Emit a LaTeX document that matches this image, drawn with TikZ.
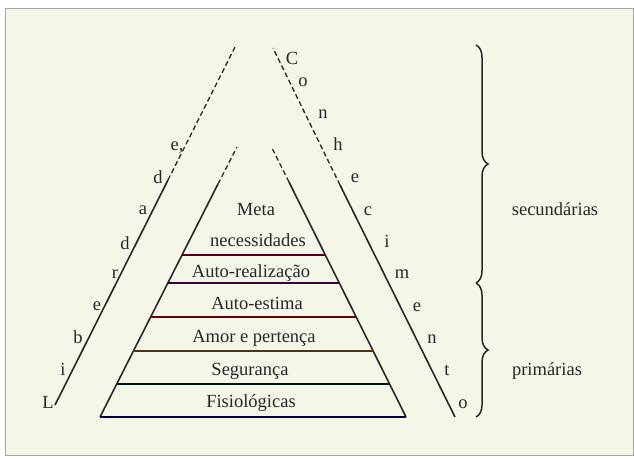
\documentclass[tikz,border=0pt]{standalone}
\usepackage{fontspec}
\setmainfont{Liberation Serif}
\usetikzlibrary{decorations.pathreplacing}

\definecolor{papel}{RGB}{244,246,231}
\definecolor{tinta}{RGB}{40,38,46}

\begin{document}
\begin{tikzpicture}[
  x=1pt,
  y=-1pt,
  font=\fontsize{18.5}{22}\selectfont,
  ltr/.style={
    anchor=base,
    text=tinta,
    inner sep=0pt
  },
  lvl/.style={
    anchor=base,
    text=tinta,
    inner sep=0pt
  },
  side/.style={
    line width=1.6pt,
    tinta
  },
  gap/.style={
    line width=1.3pt,
    tinta,
    dash pattern=on 5pt off 3pt
  },
  rung/.style={
    line width=1.5pt
  },
  chave/.style={
    decorate,
    decoration={brace, amplitude=12pt},
    line width=1.5pt,
    tinta
  }
]

\useasboundingbox (0,0) rectangle (634,458);

% =========================================================
% FUNDO
% =========================================================

\draw[gray!70, line width=1pt, fill=papel] (5,8) rectangle (633,455);

% =========================================================
% PIRÂMIDE INTERNA
% =========================================================

\coordinate (ib-l) at (100,417);
\coordinate (im-l) at (218,184);
\coordinate (it-l) at (237,147);

\coordinate (ib-r) at (406,417);
\coordinate (im-r) at (289,182);
\coordinate (it-r) at (272,148);

\draw[side] (ib-l) -- (im-l);
\draw[gap]  (im-l) -- (it-l);

\draw[side] (ib-r) -- (im-r);
\draw[gap]  (im-r) -- (it-r);

% --- Degraus ---

\draw[rung, black!55!purple] (182,255) -- (325,255);
\draw[rung, black!55!violet] (168,283) -- (339,283);
\draw[rung, black!60!red]    (151,317) -- (356,317);
\draw[rung, black!60!brown]  (133,351) -- (373,351);
\draw[rung, black!80!teal]   (117,384) -- (390,384);
\draw[rung, black!75!blue]   (ib-l) -- (ib-r);

% --- Níveis ---

\node[lvl] (meta)     at (256,215) {Meta};
\node[lvl] (necess)   at (258,246) {necessidades};
\node[lvl] (autoreal) at (251,277) {Auto-realização};
\node[lvl] (autoest)  at (257,309) {Auto-estima};
\node[lvl] (amor)     at (254,342) {Amor e pertença};
\node[lvl] (seg)      at (250,375) {Segurança};
\node[lvl] (fisio)    at (251,407) {Fisiológicas};

% =========================================================
% LIBERDADE
% =========================================================

\coordinate (ob-l) at (55,405);
\coordinate (om-l) at (168,180);
\coordinate (ot-l) at (235,47);

\draw[side] (ob-l) -- (om-l);
\draw[gap]  (om-l) -- (ot-l);

\node[ltr] (lib1) at (48,408)  {L};
\node[ltr] (lib2) at (63,375)  {i};
\node[ltr] (lib3) at (78,343)  {b};
\node[ltr] (lib4) at (97,310)  {e};
\node[ltr] (lib5) at (115,278) {r};
\node[ltr] (lib6) at (125,249) {d};
\node[ltr] (lib7) at (143,214) {a};
\node[ltr] (lib8) at (158,183) {d};
\node[ltr] (lib9) at (177,150) {e,};

% =========================================================
% CONHECIMENTO
% =========================================================

\coordinate (ob-r) at (455,417);
\coordinate (om-r) at (340,185);
\coordinate (ot-r) at (273,48);

\draw[side] (ob-r) -- (om-r);
\draw[gap]  (om-r) -- (ot-r);

\node[ltr] (con1)  at (292,64)  {C};
\node[ltr] (con2)  at (303,86)  {o};
\node[ltr] (con3)  at (323,118) {n};
\node[ltr] (con4)  at (338,150) {h};
\node[ltr] (con5)  at (355,182) {e};
\node[ltr] (con6)  at (368,215) {c};
\node[ltr] (con7)  at (387,247) {i};
\node[ltr] (con8)  at (402,278) {m};
\node[ltr] (con9)  at (417,311) {e};
\node[ltr] (con10) at (432,343) {n};
\node[ltr] (con11) at (447,375) {t};
\node[ltr] (con12) at (463,408) {o};

% =========================================================
% CHAVES
% =========================================================

\coordinate (ch-top) at (476,45);
\coordinate (ch-mid) at (476,283);
\coordinate (ch-bot) at (476,417);

\draw[chave] (ch-top) -- (ch-mid);
\draw[chave] (ch-mid) -- (ch-bot);

\node[lvl] (sec)  at (555,215) {secundárias};
\node[lvl] (prim) at (547,375) {primárias};

\end{tikzpicture}
\end{document}
